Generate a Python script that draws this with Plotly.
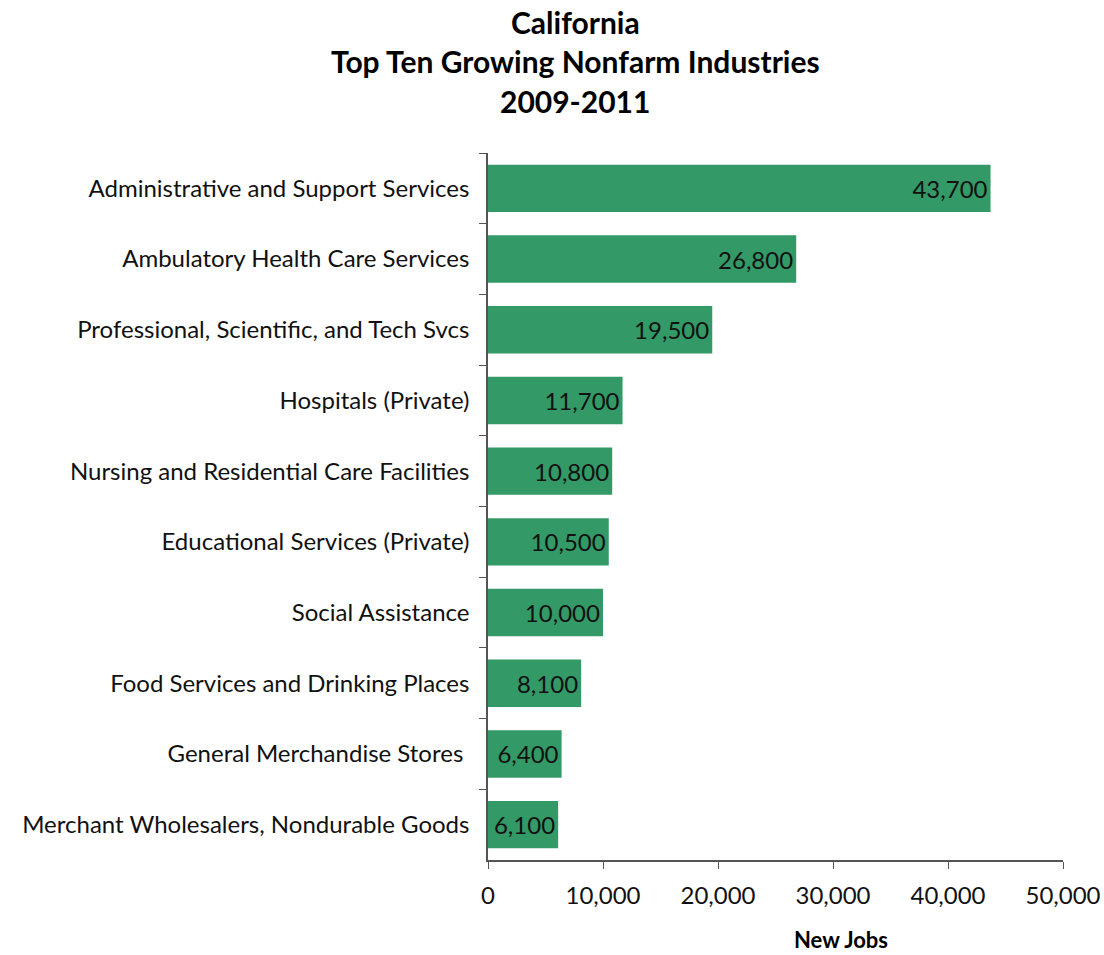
import plotly.graph_objects as go

industries = [
    "Administrative and Support Services",
    "Ambulatory Health Care Services",
    "Professional, Scientific, and Tech Svcs",
    "Hospitals (Private)",
    "Nursing and Residential Care Facilities",
    "Educational Services (Private)",
    "Social Assistance",
    "Food Services and Drinking Places",
    "General Merchandise Stores ",
    "Merchant Wholesalers, Nondurable Goods",
]
new_jobs = [43700, 26800, 19500, 11700, 10800, 10500, 10000, 8100, 6400, 6100]

x_ticks = [0, 10000, 20000, 30000, 40000, 50000]
x_tick_labels = ["0", "10,000", "20,000", "30,000", "40,000", "50,000"]

FONT = "Lato, 'Noto Sans', sans-serif"
W, H = 1104, 955
L, R, T, B = 488, 41, 153, 95
LABEL_SIZE = 24

fig = go.Figure(
    go.Bar(
        x=new_jobs,
        y=industries,
        orientation="h",
        marker=dict(color="#339966", line=dict(width=0)),
        width=0.67,
        text=[f"{v:,}" for v in new_jobs],
        textposition="inside",
        insidetextanchor="end",
        constraintext="none",
        textfont=dict(color="#111111", size=LABEL_SIZE, family=FONT),
        hoverinfo="skip",
    )
)

fig.update_layout(
    width=W,
    height=H,
    margin=dict(l=L, r=R, t=T, b=B, autoexpand=False),
    paper_bgcolor="white",
    plot_bgcolor="white",
    font=dict(family=FONT, color="#111111", size=LABEL_SIZE),
    showlegend=False,
    bargap=0.33,
)

fig.update_yaxes(
    type="category",
    autorange="reversed",
    automargin=False,
    showline=True,
    linecolor="#555555",
    linewidth=1.5,
    ticks="outside",
    tickson="boundaries",
    ticklen=7,
    tickcolor="#555555",
    ticklabelstandoff=12,
    showgrid=False,
    tickfont=dict(size=LABEL_SIZE, family=FONT),
)

fig.update_xaxes(
    range=[0, 50000],
    automargin=False,
    tickvals=x_ticks,
    ticktext=x_tick_labels,
    showline=True,
    linecolor="#555555",
    linewidth=1.5,
    ticks="outside",
    ticklen=7,
    tickcolor="#555555",
    ticklabelstandoff=6,
    showgrid=False,
    zeroline=False,
    tickfont=dict(size=LABEL_SIZE, family=FONT),
)

title_lines = ["California", "Top Ten Growing Nonfarm Industries", "2009-2011"]
for i, line in enumerate(title_lines):
    fig.add_annotation(
        text=f"<b>{line}</b>",
        xref="paper", yref="paper",
        x=(575 - L) / (W - L - R),
        y=1 + (T - (22 + 39.5 * i)) / (H - T - B),
        xanchor="center", yanchor="middle",
        showarrow=False,
        font=dict(size=30, family=FONT, color="#000000"),
    )

fig.add_annotation(
    text="<b>New Jobs</b>",
    xref="paper", yref="paper",
    x=(841 - L) / (W - L - R),
    y=-(940 - (H - B)) / (H - T - B),
    xanchor="center", yanchor="middle",
    showarrow=False,
    font=dict(size=22, family=FONT, color="#000000"),
)

fig.write_html("out.html")
